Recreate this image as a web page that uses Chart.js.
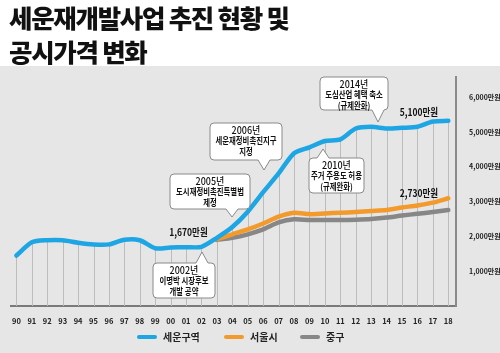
<!DOCTYPE html>
<html>
<head>
<meta charset="utf-8">
<script src="https://cdn.jsdelivr.net/npm/chart.js@4"></script>
<style>
  body { margin: 0; background: #fff; }
  #wrap { position: relative; width: 500px; height: 353px; overflow: hidden; font-family: 'Noto Sans CJK KR', sans-serif; }
  #title { position: absolute; left: 9px; top: 0px; font-size: 25.5px; font-weight: 900; line-height: 34px; color: #111; letter-spacing: -1.3px; }
  #legend { position: absolute; top: 330px; left: 0; width: 500px; height: 14px; }
  .item { position: absolute; top: 0; font-size: 10px; font-weight: 700; color: #222; line-height: 14px; }
  .item span { display: inline-block; width: 20px; height: 4px; border-radius: 2px; vertical-align: middle; margin-right: 6px; margin-top: -2px; }
</style>
</head>
<body>
<div id="wrap">
  <canvas id="chart" width="500" height="353"></canvas>
  <div id="title">세운재개발사업 추진 현황 및<br>공시가격 변화</div>
  <div id="legend"></div>
</div>
<script>
const years = ['90','91','92','93','94','95','96','97','98','99','00','01','02','03','04','05','06','07','08','09','10','11','12','13','14','15','16','17','18'];

// 만원
const seunValues = [1450,1830,1890,1890,1820,1770,1770,1905,1890,1660,1680,1690,1700,1960,2270,2710,3270,3810,4390,4560,4740,4790,5100,5150,5100,5120,5150,5300,5320];
const seoulValues = [null,null,null,null,null,null,null,null,null,null,null,null,null,1920,2060,2200,2370,2570,2680,2640,2660,2680,2700,2730,2760,2830,2890,2970,3095];
const jungguValues = [null,null,null,null,null,null,null,null,null,null,null,null,null,1900,1960,2060,2200,2400,2490,2470,2470,2470,2480,2500,2540,2600,2650,2700,2760];

const seriesNames = ['세운구역', '서울시', '중구'];
const seriesColors = ['#1da6e3', '#f39a2c', '#878787'];
const yTicks = [1000, 2000, 3000, 4000, 5000, 6000];

const valueLabels = [
  { series: 0, index: 12, text: '1,670만원', dx: -13, dy: -15 },
  { series: 0, index: 27, text: '5,100만원', dx: -14, dy: -9 },
  { series: 1, index: 27, text: '2,730만원', dx: -14, dy: -9 }
];

// callout boxes (page pixels)
const callouts = [
  { x: 170, y: 174, w: 80, h: 35, tipX: 232, tipY: 217, lines: ['2005년', '도시재정비촉진특별법', '제정'] },
  { x: 210, y: 123, w: 72, h: 37, tipX: 264, tipY: 170, lines: ['2006년', '세운재정비촉진지구', '지정'] },
  { x: 309, y: 158, w: 55, h: 35, tipX: 323, tipY: 149, lines: ['2010년', '주거 주용도 허용', '(규제완화)'] },
  { x: 320, y: 77, w: 68, h: 33, tipX: 378, tipY: 122, lines: ['2014년', '도심산업 혜택 축소', '(규제완화)'] },
  { x: 153, y: 263, w: 62, h: 35, tipX: 202, tipY: 252, lines: ['2002년', '이명박 시장후보', '개발 공약'] }
];

const FONT = "'Noto Sans CJK KR', sans-serif";
const toPoints = arr => arr.map((v, i) => ({ x: i, y: v }));

// legend
const legendX = [137, 224, 300];
const legend = document.getElementById('legend');
seriesNames.forEach((name, i) => {
  const d = document.createElement('div');
  d.className = 'item';
  d.style.left = legendX[i] + 'px';
  d.innerHTML = '<span style="background:' + seriesColors[i] + '"></span>' + name;
  legend.appendChild(d);
});

const bgPlugin = {
  id: 'bg',
  beforeDraw(chart) {
    const ctx = chart.ctx;
    ctx.save();
    ctx.fillStyle = '#ffffff';
    ctx.fillRect(0, 0, chart.width, chart.height);
    ctx.fillStyle = '#e6e6e6';
    ctx.fillRect(0, 66, chart.width, chart.height - 66);
    ctx.restore();
  }
};

// vertical drop lines under the 세운구역 line
const dropLines = {
  id: 'dropLines',
  beforeDatasetsDraw(chart) {
    const ctx = chart.ctx;
    const bottom = chart.chartArea.bottom;
    ctx.save();
    ctx.strokeStyle = '#bcbcbc';
    ctx.lineWidth = 1;
    chart.getDatasetMeta(0).data.forEach(p => {
      ctx.beginPath();
      ctx.moveTo(Math.round(p.x) + 0.5, p.y);
      ctx.lineTo(Math.round(p.x) + 0.5, bottom);
      ctx.stroke();
    });
    ctx.restore();
  }
};

function drawCondensed(ctx, text, x, y, sx) {
  ctx.save();
  ctx.translate(x, y);
  ctx.scale(sx, 1);
  ctx.fillText(text, 0, 0);
  ctx.restore();
}

const notes = {
  id: 'notes',
  afterDatasetsDraw(chart) {
    const ctx = chart.ctx;
    ctx.save();
    // value labels
    ctx.fillStyle = '#111';
    ctx.font = '700 10px ' + FONT;
    ctx.textAlign = 'center';
    ctx.textBaseline = 'middle';
    valueLabels.forEach(l => {
      const p = chart.getDatasetMeta(l.series).data[l.index];
      drawCondensed(ctx, l.text, p.x + l.dx, p.y + l.dy, 0.85);
    });
    // callouts
    callouts.forEach(c => {
      const down = c.tipY > c.y;
      const baseY = down ? c.y + c.h : c.y;
      const r = 4;
      ctx.beginPath();
      ctx.moveTo(c.x + r, c.y);
      if (!down) { ctx.lineTo(c.tipX - 6, c.y); ctx.lineTo(c.tipX, c.tipY); ctx.lineTo(c.tipX + 6, c.y); }
      ctx.lineTo(c.x + c.w - r, c.y);
      ctx.quadraticCurveTo(c.x + c.w, c.y, c.x + c.w, c.y + r);
      ctx.lineTo(c.x + c.w, c.y + c.h - r);
      ctx.quadraticCurveTo(c.x + c.w, c.y + c.h, c.x + c.w - r, c.y + c.h);
      if (down) { ctx.lineTo(c.tipX + 6, baseY); ctx.lineTo(c.tipX, c.tipY); ctx.lineTo(c.tipX - 6, baseY); }
      ctx.lineTo(c.x + r, c.y + c.h);
      ctx.quadraticCurveTo(c.x, c.y + c.h, c.x, c.y + c.h - r);
      ctx.lineTo(c.x, c.y + r);
      ctx.quadraticCurveTo(c.x, c.y, c.x + r, c.y);
      ctx.closePath();
      ctx.fillStyle = '#ffffff';
      ctx.fill();
      ctx.strokeStyle = '#8a8a8a';
      ctx.lineWidth = 1;
      ctx.stroke();
      ctx.fillStyle = '#111';
      const cx = c.x + c.w / 2;
      c.lines.forEach((t, i) => {
        ctx.font = (i === 0 ? '500 10px ' : '700 9px ') + FONT;
        drawCondensed(ctx, t, cx, c.y + 7.5 + i * 10.5, i === 0 ? 0.9 : 0.82);
      });
    });
    ctx.restore();
  }
};

new Chart(document.getElementById('chart'), {
  type: 'line',
  data: {
    datasets: [
      { label: seriesNames[0], data: toPoints(seunValues), borderColor: seriesColors[0] },
      { label: seriesNames[1], data: toPoints(seoulValues), borderColor: seriesColors[1] },
      { label: seriesNames[2], data: toPoints(jungguValues), borderColor: seriesColors[2] }
    ].map(d => Object.assign(d, {
      borderWidth: 4.5,
      pointRadius: 0,
      tension: 0.25,
      fill: false,
      borderCapStyle: 'round',
      borderJoinStyle: 'round',
      spanGaps: false
    }))
  },
  options: {
    responsive: false,
    animation: false,
    layout: { padding: { top: 77, left: 11, right: 0, bottom: 27 } },
    plugins: { legend: { display: false }, tooltip: { enabled: false } },
    scales: {
      x: {
        type: 'linear',
        min: -0.35,
        max: 28.5,
        afterBuildTicks: s => { s.ticks = years.map((y, i) => ({ value: i })); },
        afterFit: s => { s.height = 20; },
        grid: { display: false },
        border: { display: true, color: '#7a7a7a', width: 2 },
        ticks: {
          autoSkip: false,
          maxRotation: 0,
          padding: 3,
          color: '#222',
          font: { family: FONT, size: 7.5, weight: '700' },
          callback: v => years[v]
        }
      },
      y: {
        position: 'right',
        min: 0,
        max: 6580,
        afterBuildTicks: s => { s.ticks = yTicks.map(v => ({ value: v })); },
        afterFit: s => { s.width = 44; },
        grid: { display: false },
        border: { display: true, color: '#8a8a8a', width: 2 },
        ticks: {
          padding: 5,
          color: '#222',
          font: { family: FONT, size: 7, weight: '700' },
          callback: v => v.toLocaleString('en-US') + '만원'
        }
      }
    }
  },
  plugins: [bgPlugin, dropLines, notes]
});
</script>
</body>
</html>
